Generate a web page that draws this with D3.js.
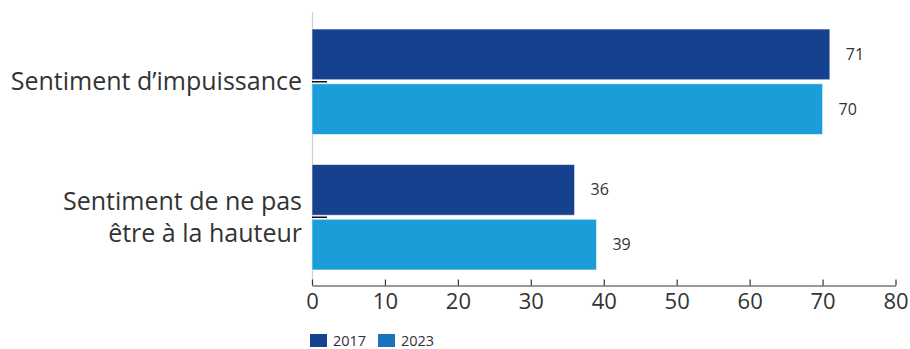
<!DOCTYPE html>
<html>
<head>
<meta charset="utf-8">
<script src="https://cdn.jsdelivr.net/npm/d3@7"></script>
<style>
  html, body { margin: 0; padding: 0; background: #fff; }
  svg { display: block; font-family: "Open Sans", "DejaVu Sans", sans-serif; }
</style>
</head>
<body>
<svg id="chart" width="910" height="349"></svg>
<script>
// Chart data
const categories = ["Sentiment d\u2019impuissance", "Sentiment de ne pas\nêtre à la hauteur"];
const seriesNames = ["2017", "2023"];
const values2017 = [71, 36];
const values2023 = [70, 39];
const xTicks = [0, 10, 20, 30, 40, 50, 60, 70, 80];

const barColors = ["#15418f", "#1a9dd8"];
const legendColors = ["#15418f", "#1a74bc"];
const textColor = "#333333";

const svg = d3.select("#chart");

const x = d3.scaleLinear().domain([0, 80]).range([312, 895.5]);

const y = d3.scaleBand()
  .domain(categories)
  .range([14, 285])
  .paddingInner(0.222)
  .paddingOuter(0.111);

const ySub = d3.scaleBand()
  .domain(seriesNames)
  .range([0, y.bandwidth()])
  .paddingInner(0.074);

const rows = categories.map((c, i) => ({
  cat: c,
  vals: [
    { s: seriesNames[0], v: values2017[i], color: barColors[0] },
    { s: seriesNames[1], v: values2023[i], color: barColors[1] }
  ]
}));

// Light vertical baseline
svg.append("line")
  .attr("x1", x(0) + 0.5).attr("x2", x(0) + 0.5)
  .attr("y1", 12).attr("y2", 285)
  .attr("stroke", "#cfcfcf").attr("stroke-width", 1.2);

// Bars
const groups = svg.selectAll("g.grp")
  .data(rows)
  .join("g")
  .attr("class", "grp")
  .attr("transform", d => `translate(0,${y(d.cat)})`);

groups.selectAll("rect")
  .data(d => d.vals)
  .join("rect")
  .attr("x", x(0))
  .attr("y", d => ySub(d.s))
  .attr("width", d => x(d.v) - x(0))
  .attr("height", ySub.bandwidth())
  .attr("fill", d => d.color)
  .attr("stroke", "rgba(255,255,255,0.55)")
  .attr("stroke-width", 1);

// Value labels
groups.selectAll("text.val")
  .data(d => d.vals)
  .join("text")
  .attr("class", "val")
  .attr("x", d => x(d.v) + 16)
  .attr("y", d => ySub(d.s) + ySub.bandwidth() / 2)
  .attr("dy", "0.35em")
  .attr("font-size", 16)
  .attr("fill", textColor)
  .text(d => d.v);

// Short dark tick marking each category centre
groups.append("line")
  .attr("x1", x(0)).attr("x2", x(0) + 15)
  .attr("y1", y.bandwidth() / 2).attr("y2", y.bandwidth() / 2)
  .attr("stroke", "#111").attr("stroke-width", 1.5);

// Category labels (multi-line, right aligned)
const catFont = 25;
const lineH = 32;
groups.append("text")
  .attr("text-anchor", "end")
  .attr("font-size", catFont)
  .attr("fill", textColor)
  .each(function (d) {
    const lines = d.cat.split("\n");
    const t = d3.select(this);
    const mid = y.bandwidth() / 2;
    lines.forEach((ln, i) => {
      t.append("tspan")
        .attr("x", 302)
        .attr("y", mid + (i - (lines.length - 1) / 2) * lineH)
        .attr("dy", "0.35em")
        .text(ln);
    });
  });

// X axis
const xAxis = d3.axisBottom(x)
  .tickValues(xTicks)
  .tickSizeInner(-6)
  .tickSizeOuter(0)
  .tickPadding(8);

const ax = svg.append("g")
  .attr("transform", "translate(0,285.5)")
  .call(xAxis);
ax.select(".domain").attr("stroke", "#333").attr("stroke-width", 1.2);
ax.selectAll(".tick line").attr("stroke", "#333").attr("stroke-width", 1.2);
ax.selectAll(".tick text")
  .attr("font-size", 22)
  .attr("font-family", "\"Open Sans\", sans-serif")
  .attr("fill", textColor);

// Legend
const legend = svg.append("g").attr("transform", "translate(310,334)");
const items = legend.selectAll("g")
  .data(seriesNames)
  .join("g")
  .attr("transform", (d, i) => `translate(${i * 68},0)`);
items.append("rect")
  .attr("width", 17).attr("height", 13)
  .attr("fill", (d, i) => legendColors[i]);
items.append("text")
  .attr("x", 23).attr("y", 6.5)
  .attr("dy", "0.36em")
  .attr("font-size", 14.5)
  .attr("fill", textColor)
  .text(d => d);
</script>
</body>
</html>
